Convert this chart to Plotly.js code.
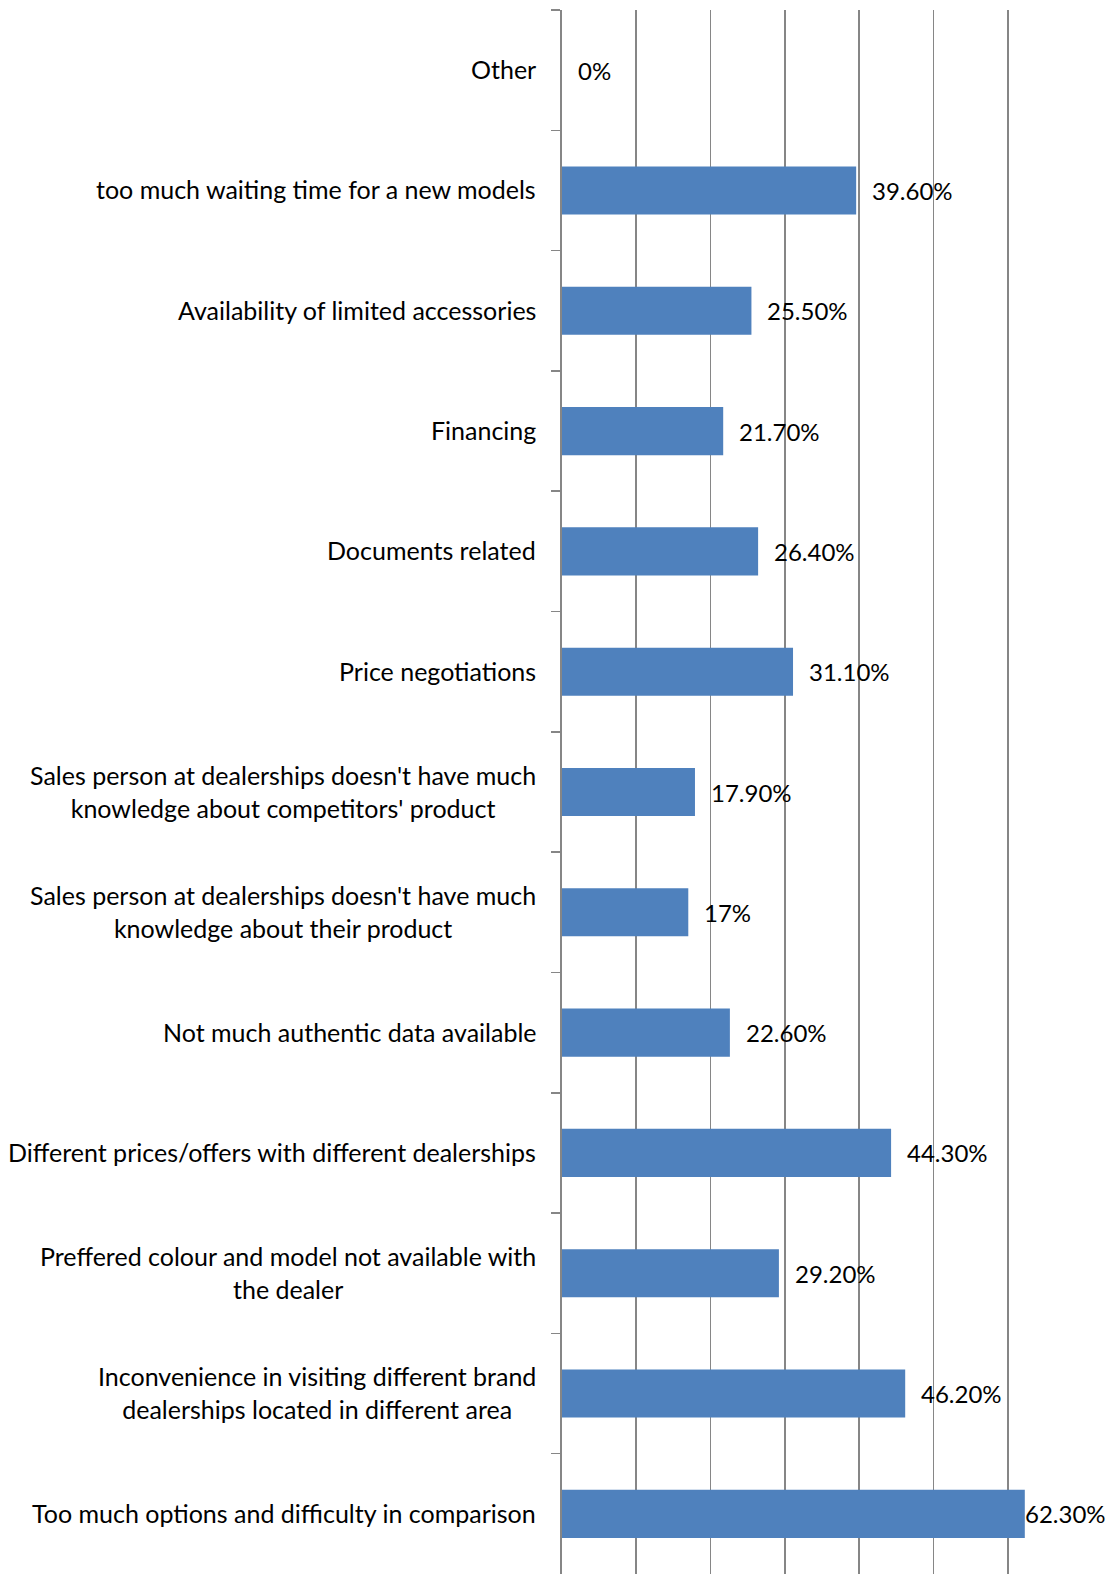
<!DOCTYPE html>
<html>
<head>
<meta charset="utf-8">
<script src="https://cdn.plot.ly/plotly-3.0.1.min.js"></script>
<style>
html,body{margin:0;padding:0;background:#fff;}
#chart{width:1110px;height:1595px;}
</style>
</head>
<body>
<div id="chart"></div>
<script>
// Categories listed from top to bottom
const categories = [
  "Other",
  "too much waiting time for a new models",
  "Availability of limited accessories",
  "Financing",
  "Documents related",
  "Price negotiations",
  "Sales person at dealerships doesn't have much<br>knowledge about competitors' product",
  "Sales person at dealerships doesn't have much<br>knowledge about their product",
  "Not much authentic data available",
  "Different prices/offers with different dealerships",
  "Preffered colour and model not available with<br>the dealer",
  "Inconvenience in visiting different brand<br>dealerships located in different area",
  "Too much options and difficulty in comparison"
];
const values = [0, 39.6, 25.5, 21.7, 26.4, 31.1, 17.9, 17, 22.6, 44.3, 29.2, 46.2, 62.3];
const valueLabels = ["0%", "39.60%", "25.50%", "21.70%", "26.40%", "31.10%", "17.90%", "17%", "22.60%", "44.30%", "29.20%", "46.20%", "62.30%"];

const FONT = "Lato, 'Open Sans', sans-serif";
const FS = 25;
const VFS = 24;

const catAnnotations = categories.map(c => ({
  x: 0, xref: 'paper', y: c, yref: 'y',
  text: c, showarrow: false, xanchor: 'right', yanchor: 'middle',
  align: 'center', xshift: -24, yshift: 1,
  font: {family: FONT, size: FS, color: '#000'}
}));
const valAnnotations = values.map((v, i) => ({
  x: v, xref: 'x', y: categories[i], yref: 'y',
  text: valueLabels[i], showarrow: false, xanchor: 'left', yanchor: 'middle',
  xshift: v > 60 ? -2 : 14,
  font: {family: FONT, size: VFS, color: '#000'}
}));

const trace = {
  type: 'bar', orientation: 'h',
  x: values, y: categories,
  marker: {color: '#4F81BD'},
  hoverinfo: 'none'
};

const layout = {
  width: 1110, height: 1595,
  margin: {l: 562, r: 28, t: 10, b: 21},
  paper_bgcolor: '#fff', plot_bgcolor: '#fff',
  showlegend: false,
  bargap: 0.6,
  font: {family: FONT, size: FS, color: '#000'},
  xaxis: {
    range: [0, 70], dtick: 10, showgrid: true, gridcolor: '#868686', gridwidth: 1.6,
    showticklabels: false, zeroline: false, showline: false, ticks: '', fixedrange: true
  },
  yaxis: {
    type: 'category', autorange: 'reversed', showticklabels: false,
    showline: true, linecolor: '#868686', linewidth: 1.6,
    ticks: 'outside', tickson: 'boundaries', ticklen: 9, tickcolor: '#868686', tickwidth: 1.6,
    showgrid: false, zeroline: false, fixedrange: true
  },
  annotations: catAnnotations.concat(valAnnotations)
};

Plotly.newPlot('chart', [trace], layout, {displayModeBar: false, staticPlot: true});
</script>
</body>
</html>
